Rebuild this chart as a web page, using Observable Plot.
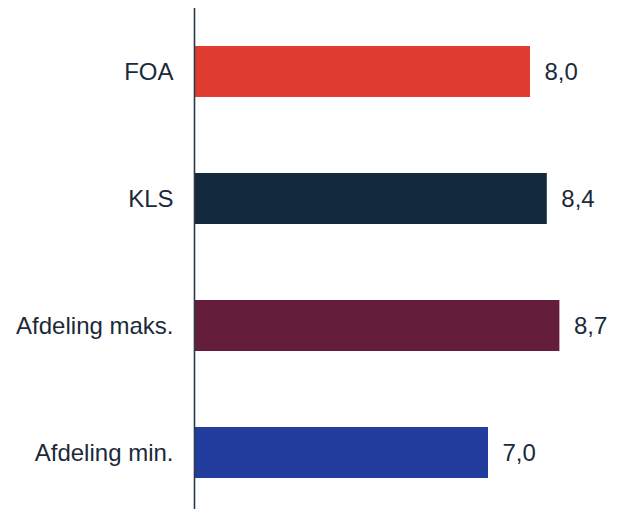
<!DOCTYPE html>
<html>
<head>
<meta charset="utf-8">
<script src="https://cdn.jsdelivr.net/npm/d3@7"></script>
<script src="https://cdn.jsdelivr.net/npm/@observablehq/plot@0.6"></script>
<style>
  html, body { margin: 0; padding: 0; background: #fff; }
  #chart svg { display: block; }
</style>
</head>
<body>
<div id="chart"></div>
<script>
const categories = ["FOA", "KLS", "Afdeling maks.", "Afdeling min."];
const values = [8.0, 8.4, 8.7, 7.0];
const colors = ["#e03c31", "#13293d", "#641e3c", "#233d9f"];

const data = categories.map((c, i) => ({category: c, value: values[i], color: colors[i]}));
const fmt = v => v.toFixed(1).replace(".", ",");
const textColor = "#1b2a3a";

const chart = Plot.plot({
  width: 619,
  height: 509,
  marginLeft: 194,
  marginRight: 5,
  marginTop: 8,
  marginBottom: 0,
  style: {fontFamily: "'Liberation Sans', Arial, sans-serif", background: "#fff"},
  x: {domain: [0, 10], axis: null},
  y: {domain: categories, axis: null, paddingInner: 0.6, paddingOuter: 0.27, align: 0.55},
  marks: [
    Plot.barX(data, {x: "value", y: "category", fill: "color"}),
    Plot.text(data, {x: "value", y: "category", text: d => fmt(d.value), textAnchor: "start", dx: 14, fontSize: 24, fill: textColor}),
    Plot.text(data, {x: 0, y: "category", text: "category", textAnchor: "end", dx: -21, fontSize: 24, fill: textColor}),
    Plot.ruleX([0], {stroke: "#2b3a4a", strokeWidth: 1.6})
  ]
});
document.getElementById("chart").appendChild(chart);
</script>
</body>
</html>
